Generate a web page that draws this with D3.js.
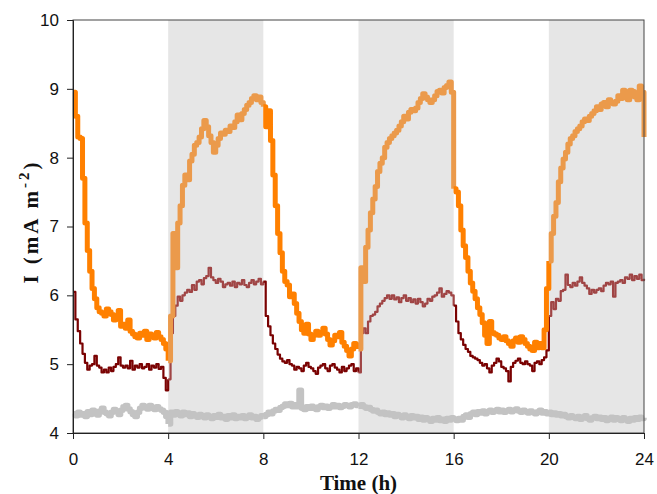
<!DOCTYPE html>
<html>
<head>
<meta charset="utf-8">
<script src="https://cdn.jsdelivr.net/npm/d3@7"></script>
<style>
    body { margin: 0; background: #fff; }
    .tick text { font-family: 'Liberation Sans', Arial, sans-serif; font-size: 17px; fill: #111; }
    .axistitle { font-family: 'Liberation Serif', 'Times New Roman', serif; font-weight: bold; font-size: 21px; fill: #111; }
</style>
</head>
<body>
<svg class="chartArea"></svg>
<script>
// Sampling of the recording (h between points)
var sampleStep = 0.1;

// Light periods (shaded)
var lightPeriods = [[4, 8], [12, 16], [20, 24]];
var periodLength = 4;

var xTickValues = [0, 4, 8, 12, 16, 20, 24];
var yTickValues = [4, 5, 6, 7, 8, 9, 10];

// Orange series, current density (mA m-2), one value every 0.1 h from 0 to 24 h
var orangeValues = [
    8.95, 8.60, 8.30, 8.28, 7.70, 7.05, 6.65, 6.35, 6.10, 5.95,
    5.82, 5.76, 5.74, 5.70, 5.80, 5.76, 5.72, 5.64, 5.70, 5.78,
    5.55, 5.58, 5.52, 5.64, 5.48, 5.44, 5.40, 5.38, 5.45, 5.42,
    5.48, 5.36, 5.44, 5.40, 5.38, 5.46, 5.40, 5.36, 5.30, 5.22,
    5.05, 5.70, 6.90, 6.40, 7.05, 7.30, 7.60, 7.75, 7.68, 7.95,
    8.05, 8.18, 8.22, 8.30, 8.42, 8.54, 8.45, 8.32, 8.22, 8.08,
    8.18, 8.28, 8.36, 8.34, 8.40, 8.38, 8.46, 8.44, 8.52, 8.62,
    8.55, 8.64, 8.70, 8.76, 8.80, 8.86, 8.90, 8.84, 8.88, 8.80,
    8.74, 8.45, 8.68, 8.25, 7.75, 7.30, 6.90, 6.62, 6.35, 6.20,
    6.15, 5.98, 6.02, 5.88, 5.74, 5.62, 5.50, 5.45, 5.58, 5.44,
    5.36, 5.42, 5.48, 5.42, 5.46, 5.52, 5.44, 5.36, 5.28, 5.34,
    5.42, 5.40, 5.46, 5.32, 5.26, 5.20, 5.12, 5.22, 5.30, 5.28,
    5.22, 6.40, 6.20, 6.70, 6.95, 7.20, 7.40, 7.58, 7.80, 7.92,
    8.00, 8.15, 8.22, 8.28, 8.32, 8.36, 8.40, 8.46, 8.52, 8.60,
    8.56, 8.66, 8.70, 8.68, 8.72, 8.80, 8.86, 8.93, 8.88, 8.84,
    8.80, 8.84, 8.90, 8.96, 8.98, 8.94, 9.02, 9.05, 9.10, 8.95,
    7.55, 7.50, 7.30, 6.95, 6.72, 6.55, 6.35, 6.18, 6.06, 5.95,
    5.82, 5.72, 5.60, 5.42, 5.30, 5.62, 5.46, 5.44, 5.42, 5.38,
    5.36, 5.40, 5.34, 5.30, 5.26, 5.34, 5.38, 5.32, 5.40, 5.36,
    5.30, 5.26, 5.22, 5.20, 5.32, 5.24, 5.30, 5.24, 5.50, 6.10,
    6.50, 6.90, 7.15, 7.35, 7.65, 7.85, 7.98, 8.08, 8.20, 8.28,
    8.32, 8.38, 8.42, 8.46, 8.52, 8.56, 8.54, 8.60, 8.64, 8.68,
    8.74, 8.70, 8.78, 8.80, 8.74, 8.84, 8.80, 8.78, 8.82, 8.90,
    8.86, 8.98, 8.88, 8.84, 8.98, 8.96, 8.88, 8.84, 9.04, 8.95,
    8.30
];

// Dark red series
var redValues = [
    6.05, 5.65, 5.48, 5.30, 5.15, 5.02, 4.92, 4.98, 5.00, 5.12,
    4.98, 4.95, 4.88, 4.92, 4.88, 4.95, 4.90, 4.96, 5.00, 5.10,
    4.98, 4.95, 4.98, 4.94, 5.05, 4.92, 4.98, 4.95, 5.00, 4.94,
    4.96, 5.00, 4.92, 4.98, 4.95, 5.00, 4.93, 4.96, 4.80, 4.62,
    4.78, 5.45, 5.70, 5.85, 5.98, 5.92, 6.00, 6.04, 6.08, 6.05,
    6.15, 6.08, 6.20, 6.22, 6.16, 6.25, 6.28, 6.40, 6.26, 6.22,
    6.18, 6.24, 6.20, 6.12, 6.16, 6.18, 6.14, 6.20, 6.12, 6.18,
    6.16, 6.22, 6.15, 6.12, 6.18, 6.22, 6.16, 6.20, 6.24, 6.16,
    6.20, 5.70, 5.55, 5.42, 5.30, 5.22, 5.14, 5.08, 5.04, 5.02,
    5.06, 5.00, 4.98, 4.92, 4.96, 4.94, 4.90, 4.98, 5.02, 4.96,
    4.94, 4.90, 4.86, 4.95, 4.98, 5.00, 4.94, 4.90, 4.98, 5.00,
    4.95, 4.92, 4.88, 4.96, 4.90, 4.94, 4.98, 5.00, 4.90, 4.94,
    4.88, 5.45, 5.52, 5.45, 5.62, 5.70, 5.72, 5.76, 5.84, 5.88,
    5.92, 5.96, 6.00, 5.95, 6.00, 5.94, 5.97, 5.90, 5.96, 6.00,
    5.92, 5.96, 5.90, 5.94, 5.88, 5.95, 5.90, 5.84, 5.88, 5.95,
    5.92, 5.98, 6.00, 6.04, 6.10, 5.98, 6.02, 6.06, 6.04, 6.00,
    5.85, 5.62, 5.45, 5.36, 5.28, 5.22, 5.18, 5.12, 5.10, 5.08,
    5.06, 5.02, 4.98, 5.00, 4.94, 4.88, 4.98, 5.02, 5.08, 5.04,
    4.96, 4.94, 4.90, 4.75, 4.96, 5.02, 5.05, 5.08, 5.02, 5.00,
    5.04, 5.00, 4.98, 4.90, 5.02, 5.04, 5.00, 5.06, 5.10, 5.20,
    5.70, 5.90, 5.80, 5.95, 5.92, 6.06, 6.08, 6.30, 6.15, 6.12,
    6.18, 6.14, 6.20, 6.26, 6.18, 6.14, 6.10, 6.02, 6.08, 6.04,
    6.08, 6.10, 6.06, 6.14, 6.18, 6.16, 6.20, 5.98, 6.18, 6.20,
    6.22, 6.18, 6.26, 6.24, 6.30, 6.22, 6.28, 6.24, 6.30, 6.22,
    6.24
];

// Gray series (control)
var grayValues = [
    4.28, 4.25, 4.30, 4.26, 4.28, 4.24, 4.31, 4.27, 4.33, 4.29,
    4.26, 4.32, 4.36, 4.30, 4.28, 4.25, 4.30, 4.34, 4.31, 4.27,
    4.33, 4.38, 4.40, 4.35, 4.31, 4.27, 4.24, 4.30, 4.36, 4.40,
    4.38, 4.35, 4.40, 4.37, 4.34, 4.38, 4.35, 4.33, 4.30, 4.24,
    4.13, 4.30, 4.26, 4.31, 4.28, 4.25, 4.30, 4.27, 4.29, 4.24,
    4.28, 4.26, 4.23, 4.27, 4.25, 4.22, 4.26, 4.24, 4.21, 4.25,
    4.23, 4.27, 4.22, 4.24, 4.20, 4.25, 4.22, 4.26, 4.21, 4.24,
    4.22, 4.25, 4.21, 4.23, 4.26, 4.22, 4.24, 4.20, 4.23, 4.25,
    4.24, 4.27, 4.30, 4.28, 4.32, 4.34, 4.33, 4.37, 4.39, 4.42,
    4.40, 4.43, 4.38, 4.41, 4.38, 4.62, 4.36, 4.34, 4.38, 4.36,
    4.39, 4.36, 4.34, 4.38, 4.40, 4.37, 4.39, 4.36, 4.38, 4.41,
    4.38, 4.40, 4.37, 4.39, 4.41, 4.40, 4.38, 4.41, 4.42, 4.40,
    4.39, 4.41, 4.38, 4.36, 4.37, 4.34, 4.32, 4.33, 4.30, 4.28,
    4.30, 4.27, 4.29, 4.26, 4.28, 4.24, 4.27, 4.25, 4.22, 4.26,
    4.24, 4.21, 4.25, 4.22, 4.24, 4.20, 4.23, 4.19, 4.22, 4.20,
    4.17, 4.21, 4.19, 4.22, 4.18, 4.20, 4.17, 4.21, 4.19, 4.22,
    4.20, 4.18, 4.21, 4.19, 4.24, 4.26, 4.23, 4.28, 4.30, 4.27,
    4.31, 4.29, 4.32, 4.28, 4.31, 4.33, 4.30, 4.32, 4.34, 4.31,
    4.33, 4.30, 4.32, 4.34, 4.31, 4.33, 4.35, 4.32, 4.30, 4.33,
    4.31, 4.29, 4.32, 4.30, 4.28, 4.31, 4.33, 4.29, 4.31, 4.28,
    4.30, 4.27, 4.29, 4.26, 4.28, 4.25, 4.27, 4.24, 4.22, 4.25,
    4.23, 4.21, 4.24, 4.20, 4.23, 4.25, 4.21, 4.19, 4.22, 4.24,
    4.21, 4.23, 4.20, 4.22, 4.18, 4.21, 4.23, 4.19, 4.22, 4.20,
    4.18, 4.22, 4.20, 4.17, 4.21, 4.19, 4.22, 4.20, 4.23, 4.21,
    4.22
];

drawChart('chartArea');

function drawChart(areaID) {
    var totalWidth = 657,
        totalHeight = 494;
    var margin = { top: 20, right: 13, bottom: 61, left: 73 },
        width = totalWidth - margin.left - margin.right,
        height = totalHeight - margin.top - margin.bottom;

    var x = d3.scaleLinear().domain([0, 24]).range([0, width]);
    var y = d3.scaleLinear().domain([4, 10]).range([height, 0]);

    var svg = d3.select('.' + areaID)
        .attr('width', totalWidth)
        .attr('height', totalHeight);

    var chart = svg.append('g')
        .attr('transform', 'translate(' + margin.left + ',' + margin.top + ')');

    // Shaded light periods
    chart.append('g')
        .selectAll('rect')
        .data(lightPeriods)
        .enter()
        .append('rect')
        .attr('x', d => x(d[0]))
        .attr('y', 0)
        .attr('width', d => x(d[1]) - x(d[0]))
        .attr('height', height)
        .attr('fill', '#e6e6e6');

    var toPoints = function(values) {
        return values.map((v, i) => ({ t: i * sampleStep, value: v }));
    };

    var line = d3.line()
        .curve(d3.curveStepAfter)
        .x(d => x(d.t))
        .y(d => y(d.value));

    // Cut a series into its 4 h periods so dark and light parts get their own colour
    function drawSeries(values, darkColor, lightColor, lineWidth) {
        var points = toPoints(values);
        var perPeriod = Math.round(periodLength / sampleStep);
        var g = chart.append('g');
        for (var k = 0; k * perPeriod < points.length - 1; k++) {
            var seg = points.slice(k * perPeriod, (k + 1) * perPeriod + 1);
            var isLight = lightPeriods.some(p => seg[1].t > p[0] && seg[1].t < p[1]);
            g.append('path')
                .datum(seg)
                .attr('d', line)
                .attr('fill', 'none')
                .attr('stroke', isLight ? lightColor : darkColor)
                .attr('stroke-width', lineWidth)
                .attr('stroke-linejoin', 'round');
        }
    }

    drawSeries(grayValues, '#c3c3c3', '#c3c3c3', 5.5);
    drawSeries(redValues, '#7a0202', '#a04545', 2.2);
    drawSeries(orangeValues, '#ff8000', '#eb9a4b', 5);

    // Frame
    chart.append('rect')
        .attr('x', 0)
        .attr('y', 0)
        .attr('width', width)
        .attr('height', height)
        .attr('fill', 'none')
        .attr('stroke', '#444')
        .attr('stroke-width', 1);

    var xAxis = d3.axisBottom(x)
        .tickValues(xTickValues)
        .tickSize(6)
        .tickPadding(14)
        .tickFormat(d3.format('d'));

    var yAxis = d3.axisLeft(y)
        .tickValues(yTickValues)
        .tickSize(6)
        .tickPadding(8)
        .tickFormat(d3.format('d'));

    chart.append('g')
        .attr('class', 'x axis')
        .attr('transform', 'translate(0,' + height + ')')
        .call(xAxis)
        .call(g => g.select('.domain').attr('stroke', '#222'));

    chart.append('g')
        .attr('class', 'y axis')
        .call(yAxis)
        .call(g => g.select('.domain').attr('stroke', '#222'));

    chart.selectAll('.tick line').attr('stroke', '#222');

    // x axis title
    chart.append('text')
        .attr('class', 'axistitle')
        .attr('x', width / 2)
        .attr('y', height + 57)
        .attr('text-anchor', 'middle')
        .attr('font-size', '22px')
        .text('Time (h)');

    // y axis title
    var yTitle = chart.append('text')
        .attr('class', 'axistitle')
        .attr('transform', 'rotate(-90)')
        .attr('x', 0 - height / 2 + 5)
        .attr('y', 0 - margin.left + 38)
        .attr('text-anchor', 'middle')
        .attr('font-size', '22px')
        .attr('letter-spacing', '3px');
    yTitle.append('tspan').text('I (mA m');
    yTitle.append('tspan').attr('dy', -9).attr('font-size', '15px').text('-2');
    yTitle.append('tspan').attr('dy', 9).text(')');
}
</script>
</body>
</html>
